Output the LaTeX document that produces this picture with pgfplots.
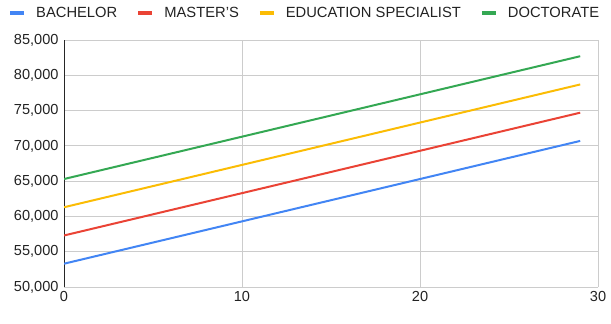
\documentclass[border=0pt]{standalone}
\usepackage{pgfplots}
\pgfplotsset{compat=1.18}
\usepackage{fontspec}
\setmainfont{Liberation Sans}

\definecolor{cBach}{HTML}{4285F4}
\definecolor{cMast}{HTML}{EA4335}
\definecolor{cSpec}{HTML}{FBBC04}
\definecolor{cDoct}{HTML}{34A853}
\definecolor{gridc}{HTML}{CCCCCC}
\definecolor{txt}{HTML}{222222}

\begin{document}
\begin{tikzpicture}
\useasboundingbox (-64bp,-37bp) rectangle (547bp,287bp);
\begin{axis}[
  at={(0,0)}, anchor=south west,
  scale only axis,
  width=534bp, height=247bp,
  xmin=0, xmax=30, ymin=50000, ymax=85000,
  xtick={0,10,20,30}, ytick={50000,55000,...,85000},
  grid=major,
  major grid style={gridc, line width=0.8bp},
  axis line style={draw=none},
  tick style={draw=none},
  ticklabel style={font=\fontsize{14.6}{16}\selectfont, text=txt},
  /pgf/number format/assume math mode=true,
  /pgf/number format/.cd, 1000 sep={,}, /pgfplots/.cd,
  scaled y ticks=false,
  yticklabel style={xshift=-2bp},
  xticklabel style={yshift=-1bp},
  legend columns=4,
  legend cell align=left,
  legend image code/.code={\draw[line width=4bp] (0bp,0bp) -- (14bp,0bp);},
  legend style={
    at={(axis description cs:0,1)}, anchor=west,
    xshift=-56bp, yshift=273.7bp-247bp,
    draw=none, fill=none, inner sep=0pt,
    font=\fontsize{14.8}{16}\selectfont, text=txt,
    nodes={inner sep=0pt},
    /tikz/every odd column/.append style={column sep=10bp},
    /tikz/every even column/.append style={column sep=19bp},
  },
]
% axis frame: light top and right, dark left
\draw[gridc, line width=0.8bp] (rel axis cs:0,0) -- (rel axis cs:1,0) -- (rel axis cs:1,1) -- (rel axis cs:0,1);
\draw[black!85, line width=1bp] (rel axis cs:0,0) -- (rel axis cs:0,1);

\addplot[cBach, line width=2bp] coordinates {(0,53300) (29,70700)};
\addlegendentry{BACHELOR}
\addplot[cMast, line width=2bp] coordinates {(0,57300) (29,74700)};
\addlegendentry{MASTER'S}
\addplot[cSpec, line width=2bp] coordinates {(0,61300) (29,78700)};
\addlegendentry{EDUCATION SPECIALIST}
\addplot[cDoct, line width=2bp] coordinates {(0,65300) (29,82700)};
\addlegendentry{DOCTORATE}
\end{axis}
\end{tikzpicture}
\end{document}
